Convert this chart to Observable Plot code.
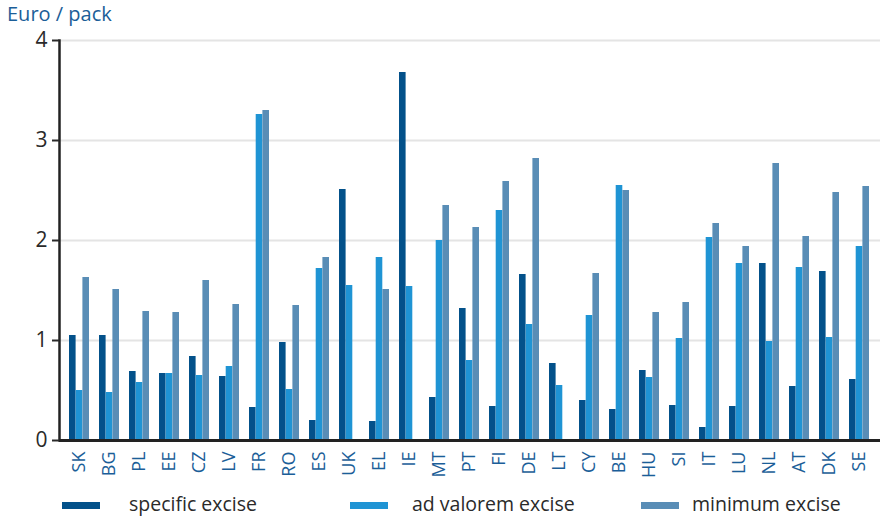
<!DOCTYPE html>
<html>
<head>
<meta charset="utf-8">
<script src="https://cdn.jsdelivr.net/npm/d3@7"></script>
<script src="https://cdn.jsdelivr.net/npm/@observablehq/plot@0.6"></script>
<style>
  html, body { margin: 0; padding: 0; background: #fff; }
  #wrap { position: relative; width: 880px; height: 521px; font-family: "Open Sans", sans-serif; }
  #title { position: absolute; left: 7px; top: 0px; font-size: 20px; color: #1b5e98; line-height: 28px; }
  #chart { position: absolute; left: 0; top: 18px; }
  .leg { position: absolute; top: 492px; font-size: 19.5px; color: #2a2a2a; line-height: 24px; }
  .sw { position: absolute; top: 502px; width: 38px; height: 7px; }
</style>
</head>
<body>
<div id="wrap">
  <div id="chart"></div>
  <div id="title">Euro / pack</div>
  <div id="legend"></div>
</div>
<script>
const countries = ["SK","BG","PL","EE","CZ","LV","FR","RO","ES","UK","EL","IE","MT","PT","FI","DE","LT","CY","BE","HU","SI","IT","LU","NL","AT","DK","SE"];
const specificExcise = [1.05,1.05,0.69,0.67,0.84,0.64,0.33,0.98,0.20,2.51,0.19,3.68,0.43,1.32,0.34,1.66,0.77,0.40,0.31,0.70,0.35,0.13,0.34,1.77,0.54,1.69,0.61];
const adValoremExcise = [0.50,0.48,0.58,0.67,0.65,0.74,3.26,0.51,1.72,1.55,1.83,1.54,2.00,0.80,2.30,1.16,0.55,1.25,2.55,0.63,1.02,2.03,1.77,0.99,1.73,1.03,1.94];
const minimumExcise = [1.63,1.51,1.29,1.28,1.60,1.36,3.30,1.35,1.83,null,1.51,null,2.35,2.13,2.59,2.82,null,1.67,2.50,1.28,1.38,2.17,1.94,2.77,2.04,2.48,2.54];
const yTicks = [0,1,2,3,4];
const seriesNames = ["specific excise","ad valorem excise","minimum excise"];
const colors = ["#03518a","#1f94d4","#598db6"];

const data = countries.map((c, i) => ({
  country: c,
  specific: specificExcise[i],
  adval: adValoremExcise[i],
  minimum: minimumExcise[i]
}));

const third = 6.7;
const chart = Plot.plot({
  width: 880,
  height: 462,
  marginTop: 22,
  marginBottom: 40,
  marginLeft: 59,
  marginRight: 0,
  style: { fontFamily: "Open Sans, sans-serif", background: "transparent" },
  x: { domain: countries, paddingInner: 0.33, paddingOuter: 0.3, label: null },
  y: { domain: [0, 4], label: null },
  marks: [
    Plot.gridY(yTicks.filter(d => d > 0), { stroke: "#e4e4e4", strokeOpacity: 1, strokeWidth: 2 }),
    Plot.barY(data, { x: "country", y: "specific", fill: colors[0], insetLeft: 0, insetRight: 2 * third }),
    Plot.barY(data, { x: "country", y: "adval", fill: colors[1], insetLeft: third, insetRight: third }),
    Plot.barY(data.filter(d => d.minimum != null), { x: "country", y: "minimum", fill: colors[2], insetLeft: 2 * third, insetRight: 0 }),
    Plot.ruleY([0], { stroke: "#222", strokeWidth: 3 }),
    Plot.frame({ anchor: "left", stroke: "#222", strokeWidth: 2.5 }),
    Plot.axisY(yTicks, { tickSize: 7, tickPadding: 5, fontSize: 21, color: "#2a2a2a", strokeWidth: 2, tickFormat: d => String(d), label: null }),
    Plot.axisX({ tickSize: 0, tickPadding: 11, tickRotate: -90, fontSize: 18, color: "#1b5e98", label: null })
  ]
});
document.getElementById("chart").appendChild(chart);

const legend = document.getElementById("legend");
const swX = [62, 350, 641];
const txX = [129, 412, 692];
seriesNames.forEach((n, i) => {
  const sw = document.createElement("div");
  sw.className = "sw";
  sw.style.left = swX[i] + "px";
  sw.style.background = colors[i];
  legend.appendChild(sw);
  const t = document.createElement("div");
  t.className = "leg";
  t.style.left = txX[i] + "px";
  t.textContent = n;
  legend.appendChild(t);
});
</script>
</body>
</html>
